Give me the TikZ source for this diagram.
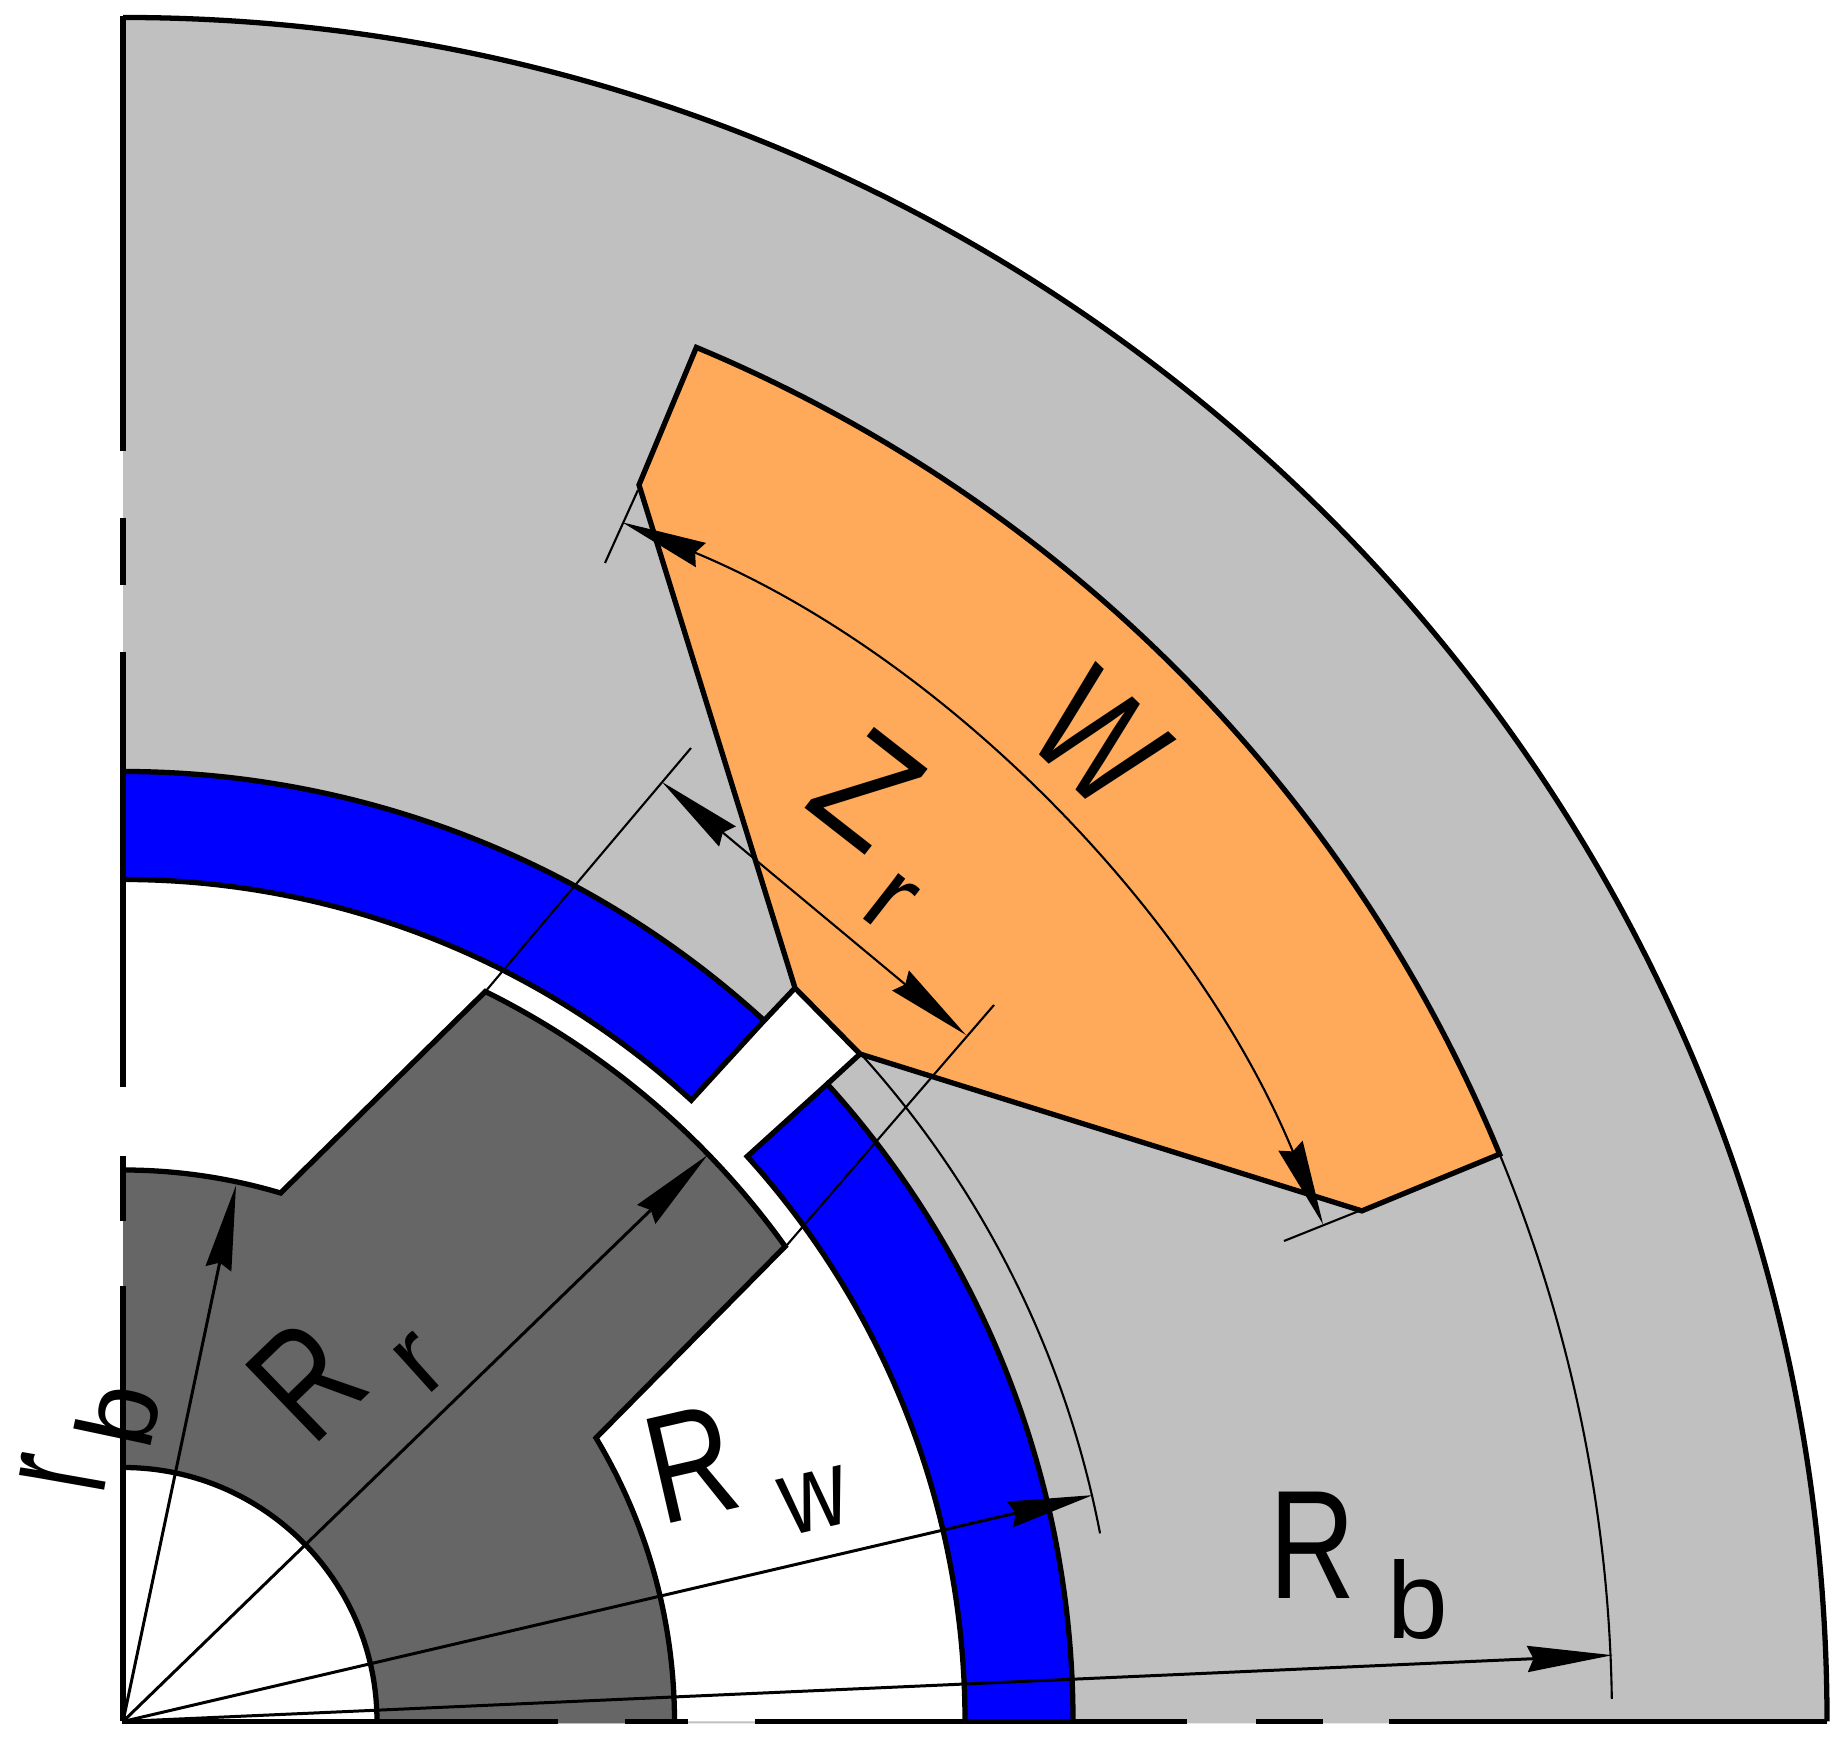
\documentclass[tikz,border=0pt]{standalone}
\usepackage{graphicx}
\usepackage{fontspec}
\setmainfont{Liberation Sans}
\usetikzlibrary{arrows.meta}
\definecolor{statorgray}{HTML}{C0C0C0}
\definecolor{rotorgray}{HTML}{666666}
\definecolor{coilblue}{HTML}{0000FF}
\definecolor{windorange}{HTML}{FFAA5A}
\tikzset{
  outline/.style={line width=1.5pt},
  dimline/.style={line width=0.85pt},
  extline/.style={line width=0.6pt},
  bigtip/.tip={Stealth[length=8.5mm,width=2.6mm,inset=0.6mm]},
  biglab/.style={font=\fontsize{44}{44}\selectfont,inner sep=0pt},
  sublab/.style={font=\fontsize{31}{31}\selectfont,inner sep=0pt}
}
\newcommand{\bigR}{\scalebox{.77}[1]{R}}
\begin{document}
\begin{tikzpicture}[x=0.01cm,y=0.01cm]
\useasboundingbox (-123,-21.5) rectangle (1717,1721.5);
\coordinate (O) at (0,0);
% stator
\fill[statorgray] (0,-2) -- (1704,-2) -- (0:1704) arc (0:90:1704) -- cycle;
\draw[outline] (0:1704) arc (0:90:1704);
\fill[white] (O) -- (0:842) arc (0:90:842) -- cycle;
% slot opening
\coordinate (slotL) at (672,733.5);
\coordinate (slotR) at (737,667.5);
\fill[white] (47.55:842) -- (47.55:950) -- (slotL) -- (slotR) -- (42.15:950) -- (42.15:842) -- cycle;
\draw[outline] (47.55:950) -- (slotL);
\draw[outline] (42.15:950) -- (slotR);
% coil
\draw[outline,fill=coilblue] (90:950) arc (90:47.55:950) -- (47.55:842) arc (47.55:90:842);
\draw[outline,fill=coilblue] (0:950) arc (0:42.15:950) -- (42.15:842) arc (42.15:0:842);
% winding
\draw[outline,fill=windorange] (67.35:1489) arc (67.35:22.4:1489) -- (22.4:1340) -- (slotR) -- (slotL) -- (67.35:1340) -- cycle;
% rotor
\fill[rotorgray] (0,-2) -- (551.5,-2) -- (0:551.5) arc (0:30.94:551.5) -- (35.66:815) arc (35.66:63.6:815) -- (73.4:551.5) arc (73.4:90:551.5) -- cycle;
\draw[outline] (90:551.5) arc (90:73.4:551.5) -- (63.6:815) arc (63.6:35.66:815) -- (30.94:551.5) arc (30.94:0:551.5);
\fill[white] (O) -- (0:254) arc (0:90:254) -- cycle;
\draw[outline] (0:254) arc (0:90:254);
% left edge
\draw[outline] (0,0) -- (0,435);
\draw[outline] (0,500) -- (0,565);
\draw[outline] (0,634) -- (0,1069);
\draw[outline] (0,1136) -- (0,1203);
\draw[outline] (0,1270) -- (0,1705);
% bottom edge
\draw[outline] (-1,0) -- (435,0);
\draw[outline] (502,0) -- (565,0);
\draw[outline] (632,0) -- (1064,0);
\draw[outline] (1133,0) -- (1200,0);
\draw[outline] (1266,0) -- (1704,0);
% extension lines
\coordinate (zrA) at (362,729.5);
\coordinate (zrB) at (568,973.5);
\coordinate (zrC) at (664,476.5);
\coordinate (zrD) at (871,716.5);
\coordinate (wA) at (515,1231.5);
\coordinate (wB) at (482,1158.5);
\coordinate (wC) at (1241,512.5);
\coordinate (wD) at (1161,480.5);
\draw[extline] (zrA) -- (zrB);
\draw[extline] (zrC) -- (zrD);
\draw[extline] (wA) -- (wB);
\draw[extline] (wC) -- (wD);
\draw[extline] (42:995) arc (42:10.9:995);
\draw[extline] (22.4:1489) arc (22.4:0.87:1489);
% dimensions
\coordinate (zrTop) at (539,939.5);
\coordinate (zrBot) at (843,686.5);
\draw[dimline,-{bigtip}] (O) -- (78.1:548);
\draw[dimline,-{bigtip}] (O) -- (44.1:814);
\draw[dimline,-{bigtip}] (O) -- (13.14:996);
\draw[dimline,-{bigtip}] (O) -- (2.55:1491);
\draw[extline,{bigtip}-{bigtip}] (zrTop) -- (zrBot);
\draw[extline,{bigtip}-{bigtip}] (67.4:1299) arc (67.4:22.5:1299);
% labels
\node[biglab,rotate=44] (Rr) at (183,341.5) {\bigR};
\node[sublab,rotate=42] (Rrsub) at (297,357.5) {r};
\node[biglab,rotate=13] (Rw) at (568,257.5) {\bigR};
\node[sublab,rotate=13] (Rwsub) at (692,220.5) {\scalebox{.85}[1]{w}};
\node[biglab] (Rb) at (1189,176.5) {\bigR};
\node[sublab] (Rbsub) at (1295,121.5) {b};
\node[biglab,rotate=-38] (Zr) at (745,931.5) {\scalebox{.9}[1]{Z}};
\node[sublab,rotate=-38] (Zrsub) at (767,818.5) {r};
\node[biglab,rotate=-44] (Wlab) at (976,982.5) {\scalebox{.78}[1]{W}};
\node[sublab,rotate=80] (rb) at (-60,247.5) {\scalebox{.85}[1.5]{r}};
\node[sublab,rotate=78] (rbsub) at (-5,306.5) {b};
\end{tikzpicture}
\end{document}
